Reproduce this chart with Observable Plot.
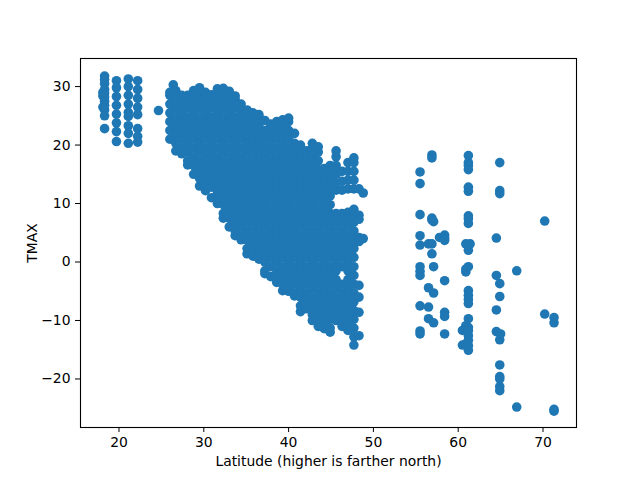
<!DOCTYPE html>
<html>
<head>
<meta charset="utf-8">
<style>html,body{margin:0;padding:0;background:#fff}svg{display:block}</style>
<script src="https://cdn.jsdelivr.net/npm/d3@7"></script>
<script src="https://cdn.jsdelivr.net/npm/@observablehq/plot@0.6"></script>
</head>
<body>
<div id="chart"></div>
<script>
const xTicks = [20, 30, 40, 50, 60, 70];
const yTicks = [-20, -10, 0, 10, 20, 30];
const xLabel = "Latitude (higher is farther north)";
const yLabel = "TMAX";

// Station latitudes and the TMAX values read at each of them
const southLat = [18.3, 18.1, 19.7, 21.1, 22.2, 24.66];
const southTmax = [
  [31.8, 31.2, 30.5, 29.5, 28.9, 28.2, 27.5, 26.8, 26, 25, 22.8],
  [28.4, 26.5, 29],
  [31, 29.8, 28.3, 26.8, 25.3, 23.8, 22.3, 20.6],
  [31.3, 30, 28.5, 27, 25.6, 24.9, 23.3, 22, 20.3],
  [31, 29.5, 28, 26.5, 25.2, 22.8, 21.5, 20.5],
  [25.9]
];

const denseLat = [26.0, 26.4, 26.7, 27.4, 28.1, 28.8, 29.5, 30.2, 30.9, 31.6, 32.3, 33.0, 33.7, 34.4, 35.1, 35.8, 36.5, 37.2, 37.9, 38.6, 39.3, 40.0, 40.7, 41.4, 42.1, 42.8, 43.5, 44.2, 44.9, 45.6, 46.3, 47.0, 47.7, 48.3, 48.8];
const denseTmax = [
  [21, 22.5, 24, 25.5, 27, 28.5, 29],
  [30.3],
  [19, 20.3, 21.8, 23.3, 24.8, 26.3, 27.8, 29.3],
  [18.5, 19.5, 21, 22.5, 24, 25.5, 27, 28.5],
  [16.6, 17.3, 18.8, 20.3, 21.8, 23.3, 24.8, 26.3, 27.8, 28.5],
  [15, 16.5, 18, 19.5, 21, 22.5, 24, 25.5, 27, 28.5, 29.3],
  [13, 14.3, 15.8, 17.3, 18.8, 20.3, 21.8, 23.3, 24.8, 26.3, 27.8, 29.3, 29.8],
  [12.2, 13.5, 15, 16.5, 18, 19.5, 21, 22.5, 24, 25.5, 27, 28.5, 29],
  [11, 12.8, 14.3, 15.8, 17.3, 18.8, 20.3, 21.8, 23.3, 24.8, 26.3, 27.8, 28.6],
  [10, 10.5, 12, 13.5, 15, 16.5, 18, 19.5, 21, 22.5, 24, 25.5, 27, 28.5, 29.6],
  [7.5, 8.3, 9.8, 11.3, 12.8, 14.3, 15.8, 17.3, 18.8, 20.3, 21.8, 23.3, 24.8, 26.3, 27.8, 29.3, 29.7],
  [6, 7.5, 9, 10.5, 12, 13.5, 15, 16.5, 18, 19.5, 21, 22.5, 24, 25.5, 27, 28.5, 29.2],
  [4.5, 5.3, 6.8, 8.3, 9.8, 11.3, 12.8, 14.3, 15.8, 17.3, 18.8, 20.3, 21.8, 23.3, 24.8, 26.3, 27.8, 28.4],
  [3.8, 4.5, 6, 7.5, 9, 10.5, 12, 13.5, 15, 16.5, 18, 19.5, 21, 22.5, 24, 25.5, 27],
  [1.4, 2.3, 3.8, 5.3, 6.8, 8.3, 9.8, 11.3, 12.8, 14.3, 15.8, 17.3, 18.8, 20.3, 21.8, 23.3, 24.8, 26],
  [1, 1.5, 3, 4.5, 6, 7.5, 9, 10.5, 12, 13.5, 15, 16.5, 18, 19.5, 21, 22.5, 24, 25.5],
  [0.5, 0.8, 2.3, 3.8, 5.3, 6.8, 8.3, 9.8, 11.3, 12.8, 14.3, 15.8, 17.3, 18.8, 20.3, 21.8, 23.3, 24.8, 25.2],
  [-2, -1.5, 0, 1.5, 3, 4.5, 6, 7.5, 9, 10.5, 12, 13.5, 15, 16.5, 18, 19.5, 21, 22.5, 24.2],
  [-2.5, -0.8, 0.8, 2.3, 3.8, 5.3, 6.8, 8.3, 9.8, 11.3, 12.8, 14.3, 15.8, 17.3, 18.8, 20.3, 21.8, 23.3, 23.6],
  [-3.5, -3, -1.5, 0, 1.5, 3, 4.5, 6, 7.5, 9, 10.5, 12, 13.5, 15, 16.5, 18, 19.5, 21, 22.5, 24],
  [-4.9, -3.8, -2.3, -0.8, 0.8, 2.3, 3.8, 5.3, 6.8, 8.3, 9.8, 11.3, 12.8, 14.3, 15.8, 17.3, 18.8, 20.3, 21.8, 23.3, 24.3],
  [-5, -4.5, -3, -1.5, 0, 1.5, 3, 4.5, 6, 7.5, 9, 10.5, 12, 13.5, 15, 16.5, 18, 19.5, 21, 22.5, 24, 24.6],
  [-5.8, -5.3, -3.8, -2.3, -0.8, 0.8, 2.3, 3.8, 5.3, 6.8, 8.3, 9.8, 11.3, 12.8, 14.3, 15.8, 17.3, 18.8, 20.3, 22],
  [-8.5, -7.5, -6, -4.5, -3, -1.5, 0, 1.5, 3, 4.5, 6, 7.5, 9, 10.5, 12, 13.5, 15, 16.5, 18, 19.5, 20],
  [-8, -6.8, -5.3, -3.8, -2.3, -0.8, 0.8, 2.3, 3.8, 5.3, 6.8, 8.3, 9.8, 11.3, 12.8, 14.3, 15.8, 17.3, 18.8, 19],
  [-10, -9, -7.5, -6, -4.5, -3, -1.5, 0, 1.5, 3, 4.5, 6, 7.5, 9, 10.5, 12, 13.5, 15, 16.5, 18, 19.5, 20.3],
  [-11, -9.8, -8.3, -6.8, -5.3, -3.8, -2.3, -0.8, 0.8, 2.3, 3.8, 5.3, 6.8, 8.3, 9.8, 11.3, 12.8, 14.3, 15.8, 17.3, 18.8, 19.7],
  [-11.4, -10.5, -9, -7.5, -6, -4.5, -3, -1.5, 0, 1.5, 3, 4.5, 6, 7.5, 9, 10.5, 12, 13.5, 15, 16],
  [-12, -11.3, -9.8, -8.3, -6.8, -5.3, -3.8, -2.3, -0.8, 0.8, 2.3, 3.8, 5.3, 6.8, 8.3, 9.8, 11.3, 12.8, 14.3, 15.8, 16.5],
  [-10, -9, -7.5, -6, -4.5, -3, -1.5, 0, 1.5, 3, 4.5, 6, 7.5, 8.3, 12.3, 13.5, 15, 16.5, 18, 19],
  [-11, -9.8, -8.3, -6.8, -5.3, -3.8, -0.8, 0.8, 2.3, 3.8, 5.3, 6.8, 8.3, 12.3, 13.8, 15.5],
  [-11.7, -10.5, -9, -7.5, -6, -4.5, -3, -1.5, 0, 1.5, 3, 4.5, 6, 7.5, 8.5, 12.5, 14, 15.5, 17],
  [-14.2, -12.8, -11.3, -9.8, -8.3, -6.8, -5.3, -3.8, -2.3, -0.8, 0.8, 2.3, 3.8, 5.3, 6.8, 8.3, 9, 12.5, 14, 15.5, 17, 17.8],
  [12.5, 8, 7.3, 4.2, 3.5, -4, -6, -8.6, -12.6],
  [11.8, 4]
];

const northLat = [55.5, 56.5, 56.9, 57.1, 57.8, 58.4, 60.5, 60.9, 61.2, 61.4, 64.5, 64.9, 65, 66.9, 70.2, 71.3];
const northTmax = [
  [15.4, 13.4, 8.1, 4.5, 2.9, -0.8, -1.6, -2.3, -7.5, -11.8, -12.3],
  [3.1, -4.4, -7.7, -9.7],
  [18.3, 17.8, 7.5, 7.2, 3.1, 1.4],
  [6.9, -0.8, -5.3, -10.4],
  [4.2],
  [4.6, 4.1, 3.7, -3.2, -8.6, -9.3, -12.3],
  [-11.7, -14.2],
  [3.1, -1.7, -1.2, -10.9, -14],
  [18.2, 17, 16.5, 15.8, 12.8, 12.1, 7.9, 7.4, 6.6, 2, -0.8, -4.9, -5.7, -6.4, -7.1, -9.7, -11.2, -11.7, -12.6, -13.4, -14.3, -15.1],
  [3.1],
  [4.1, -2.3, -8.2, -11.9],
  [17, 12.2, 11.7, -3.7, -5.9, -13.3, -17.6, -19.6, -20, -21.3, -22],
  [-12.3],
  [-1.5, -24.8],
  [7, -8.9],
  [-9.5, -10.4, -25.2, -25.5]
];

const rows = (lats, values) => lats.flatMap((lat, i) => values[i].map(tmax => ({lat, tmax})));
const points = [
  ...rows(southLat, southTmax),
  ...rows(denseLat, denseTmax),
  ...rows(northLat, northTmax)
];

const chart = Plot.plot({
  width: 640,
  height: 480,
  marginLeft: 80,
  marginRight: 64,
  marginTop: 58,
  marginBottom: 53,
  style: {fontFamily: "'DejaVu Sans', sans-serif", fontSize: "13.9px", background: "#fff", color: "#000"},
  x: {domain: [15.46, 73.95]},
  y: {domain: [-28.3, 34.8]},
  marks: [
    Plot.dot(points, {x: "lat", y: "tmax", r: 4.8, fill: "#1f77b4", stroke: "none"}),
    Plot.frame({stroke: "#000", strokeWidth: 1.1}),
    Plot.axisX({
      ticks: xTicks, tickSize: 5, tickPadding: 5, fontSize: 13.9,
      tickFormat: d => String(d),
      label: xLabel, labelAnchor: "center", labelArrow: "none", labelOffset: 38
    }),
    Plot.axisY({
      ticks: yTicks, tickSize: 5, tickPadding: 5, fontSize: 13.9,
      tickFormat: d => String(d).replace("-", "\u2212"),
      label: yLabel, labelAnchor: "center", labelArrow: "none", labelOffset: 53
    })
  ]
});
document.getElementById("chart").appendChild(chart);
</script>
</body>
</html>
